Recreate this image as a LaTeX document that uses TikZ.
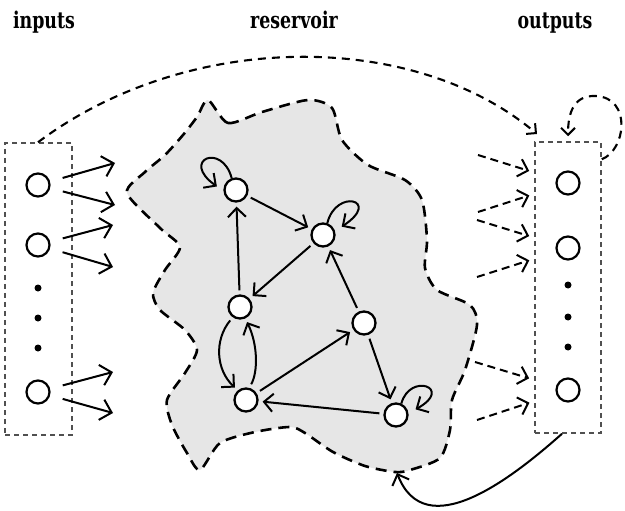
\documentclass[tikz,border=0pt]{standalone}
\usepackage{graphicx}
\usepackage{fontspec}
\newfontfamily\labelfont{DejaVu Serif Condensed}
\usetikzlibrary{arrows.meta,calc}

\definecolor{blobgray}{HTML}{E6E6E6}
\definecolor{boxgray}{HTML}{505050}

% narrow heading text
\newcommand\narrowtitle[1]{\scalebox{0.84}[1]{#1}}

\tikzset{
  lbl/.style={font=\labelfont\bfseries\fontsize{23}{27}\selectfont, anchor=base, inner sep=0pt},
  unit/.style={circle, draw, line width=2.2pt, minimum size=23pt, inner sep=0pt, fill=white},
  rnode/.style={circle, draw, line width=2.3pt, minimum size=23pt, inner sep=0pt, fill=white},
  dotn/.style={circle, fill, inner sep=0pt, minimum size=7pt},
  unitbox/.style={draw=boxgray, line width=1.5pt, dash pattern=on 5pt off 4pt,
    minimum width=67pt, minimum height=292pt, inner sep=0pt},
  barbhead/.style={-{Straight Barb[length=#1,width=2*#1,line width=2pt]}},
  inarr/.style={line width=2pt, shorten <=13pt, barbhead=10.5pt},
  outarr/.style={line width=2pt, dash pattern=on 8pt off 5pt, shorten >=28pt, barbhead=9pt},
  rarr/.style={line width=2pt, shorten <=4pt, shorten >=4pt, barbhead=9pt},
  looparr/.style={line width=2pt, barbhead=9pt},
  bigdash/.style={line width=2.1pt, dash pattern=on 8pt off 6pt, barbhead=7pt},
  blobline/.style={draw=black, line width=2.6pt, dash pattern=on 11pt off 7pt, fill=blobgray},
}

\begin{document}
\begin{tikzpicture}[x=1pt,y=-1pt]
\useasboundingbox (0,0) rectangle (625,511);

% column titles
\node[lbl] (tin)  at (44,29)  {\narrowtitle{inputs}};
\node[lbl] (tres) at (294,29) {\narrowtitle{reservoir}};
\node[lbl] (tout) at (555,29) {\narrowtitle{outputs}};

% reservoir outline
\path[blobline] plot[smooth cycle, tension=0.45] coordinates {
  (208,100) (228,123) (262,112) (308,100) (332,108) (342,140) (368,165)
  (405,180) (422,200) (427,240) (425,268) (437,290) (470,305) (477,325)
  (465,370) (452,400) (450,430) (440,458) (410,470) (395,472) (365,466)
  (333,452) (305,433) (290,427) (255,432) (220,443) (200,470) (187,453)
  (172,425) (167,400) (185,373) (197,350) (185,330) (160,310) (153,293)
  (165,270) (180,247) (160,228) (127,193) (145,172) (165,155) (183,135)
  (197,117)};

% input layer
\node[unitbox] (inbox) at (38.5,289) {};
\node[unit] (i1) at (38,185) {};
\node[unit] (i2) at (38,245) {};
\node[unit] (i3) at (38,392) {};
\node[dotn] (id1) at (38,288) {};
\node[dotn] (id2) at (38,318) {};
\node[dotn] (id3) at (38,348) {};

% output layer
\node[unitbox, minimum width=66pt, minimum height=291pt] (outbox) at (568,287.5) {};
\node[unit] (o1) at (568,183) {};
\node[unit] (o2) at (568,248) {};
\node[unit] (o3) at (568,390) {};
\node[dotn] (od1) at (568,285) {};
\node[dotn] (od2) at (568,317) {};
\node[dotn] (od3) at (568,347) {};

% reservoir units
\node[rnode] (n1) at (236,190) {};
\node[rnode] (n2) at (323,235) {};
\node[rnode] (n3) at (240,307) {};
\node[rnode] (n4) at (364,323) {};
\node[rnode] (n5) at (246,400) {};
\node[rnode] (n6) at (396,415) {};

% input weights
\coordinate (a1) at (115,163);
\coordinate (a2) at (115,205);
\coordinate (a3) at (113,225);
\coordinate (a4) at (113,267);
\coordinate (a5) at (113,372);
\coordinate (a6) at (113,413);
\draw[inarr] (i1) -- (a1);
\draw[inarr] (i1) -- (a2);
\draw[inarr] (i2) -- (a3);
\draw[inarr] (i2) -- (a4);
\draw[inarr] (i3) -- (a5);
\draw[inarr] (i3) -- (a6);

% readout weights
\coordinate (b1) at (478,155);
\coordinate (b2) at (478,212);
\coordinate (b3) at (477,220);
\coordinate (b4) at (477,277);
\coordinate (b5) at (475,362);
\coordinate (b6) at (477,420);
\draw[outarr] (b1) -- (o1);
\draw[outarr] (b2) -- (o1);
\draw[outarr] (b3) -- (o2);
\draw[outarr] (b4) -- (o2);
\draw[outarr] (b5) -- (o3);
\draw[outarr] (b6) -- (o3);

% recurrent connections
\draw[rarr] (n1) -- (n2);
\draw[rarr] (n3) -- (n1);
\draw[rarr] (n2) -- (n3);
\draw[rarr] (n4) -- (n2);
\draw[rarr] (n4) -- (n6);
\draw[rarr] (n5) -- (n4);
\draw[rarr] (n6) -- (n5);
\draw[rarr] (n3.235) .. controls (214,340) and (216,370) .. (n5.130);
\draw[rarr] (n5.75) .. controls (258,372) and (258,345) .. (n3.295);

% self connections
\draw[looparr, shorten >=8pt] (n1.110) .. controls (222,142) and (180,160) .. (n1.185);
\draw[looparr, shorten >=8pt] (n2.70) .. controls (336,188) and (382,200) .. (n2.18);
\draw[looparr, shorten >=8pt] (n6.65) .. controls (410,372) and (454,388) .. (n6.8);

% direct input-to-output and output feedback paths
\coordinate (arcend) at (537,134);
\draw[bigdash] (inbox.north -| i1) .. controls (188,30) and (414,30) .. (arcend);
\draw[bigdash, shorten >=5pt] ($(outbox.north east)+(0,18)$) .. controls (626,150) and (632,98) .. (596,96)
  .. controls (574,95) and (568,112) .. (outbox.north);
\coordinate (blobin) at (397,473);
\draw[looparr] ($(outbox.south)+(-6,0)$) .. controls (510,480) and (425,545) .. (blobin);
\end{tikzpicture}
\end{document}
